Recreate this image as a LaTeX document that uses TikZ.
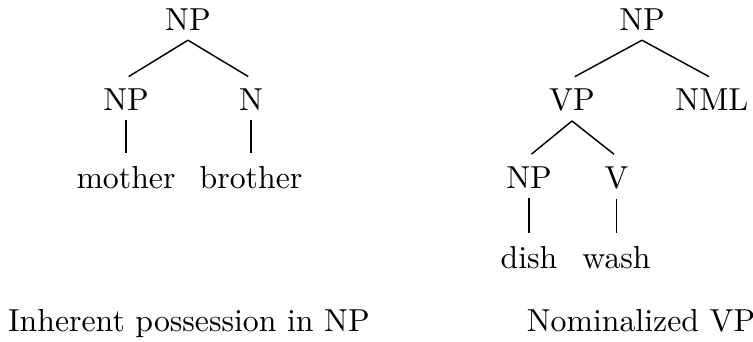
\documentclass[tikz,border=0pt]{standalone}
\usepackage{tikz}

\tikzset{
  cat/.style={anchor=base, inner sep=3pt},
  treeline/.style={line width=0.016cm, shorten >=1pt},
}

\begin{document}
\begin{tikzpicture}
% \clip (0,0) rectangle (8.324000,3.770000);
\useasboundingbox (0.000000,0.000000) rectangle (8.324000,3.770000);

% Drawing tree: inherent possession
\node [cat] (np1) at (2.078000,3.438000) {NP};%
\node [cat] (np2) at (1.393000,2.553000) {NP};%
\node [cat] (n1) at (2.775000,2.553000) {N};%
\node [cat] (mother) at (1.393000,1.691000) {mother};%
\node [cat] (brother) at (2.775000,1.691000) {brother};%
\draw [treeline] (np1.south) -- (np2.north);%
\draw [treeline] (np1.south) -- (n1.north);%
\draw [treeline] (np2.south) -- (mother.north);%
\draw [treeline] (n1.south) -- (brother.north);%
\node [cat] (cap1) at (2.089000,0.111000) {Inherent possession in NP};%

% Drawing tree: nominalized VP
\node [cat] (np3) at (7.097000,3.438000) {NP};%
\node [cat] (vp) at (6.323000,2.553000) {VP};%
\node [cat] (nml) at (7.870000,2.553000) {NML};%
\node [cat] (np4) at (5.848000,1.691000) {NP};%
\node [cat] (v) at (6.815000,1.691000) {V};%
\node [cat] (dish) at (5.848000,0.807000) {dish};%
\node [cat] (wash) at (6.815000,0.807000) {wash};%
\draw [treeline] (np3.south) -- (vp.north);%
\draw [treeline] (np3.south) -- (nml.north);%
\draw [treeline] (vp.south) -- (np4.north);%
\draw [treeline] (vp.south) -- (v.north);%
\draw [treeline] (np4.south) -- (dish.north);%
\draw [treeline] (v.south) -- (wash.north);%
\node [cat] (cap2) at (7.086000,0.111000) {Nominalized VP};%
\end{tikzpicture}
\end{document}
